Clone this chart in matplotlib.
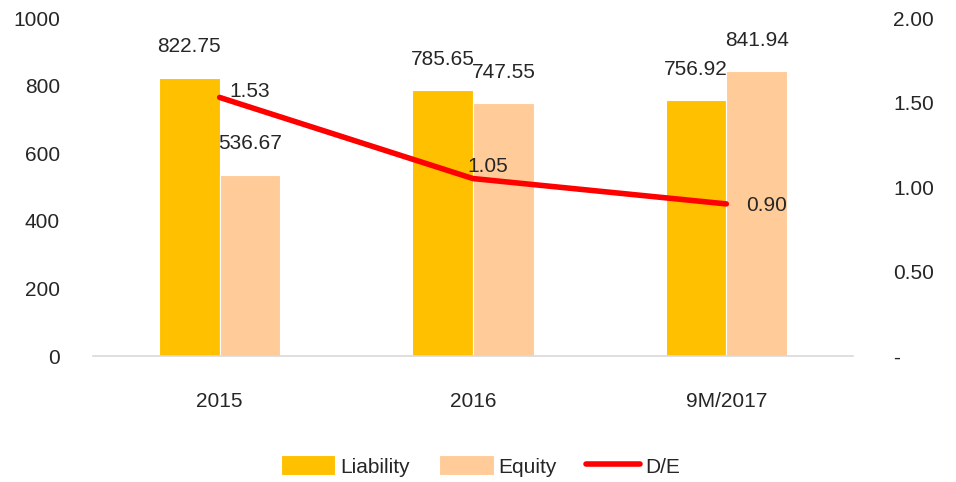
import matplotlib
matplotlib.use("Agg")
import matplotlib.pyplot as plt
import numpy as np

categories = ["2015", "2016", "9M/2017"]
liability = [822.75, 785.65, 756.92]
equity = [536.67, 747.55, 841.94]
de_ratio = [1.53, 1.05, 0.90]
left_ticks = [0, 200, 400, 600, 800, 1000]
right_ticks = [0, 0.5, 1.0, 1.5, 2.0]
right_tick_labels = ["-", "0.50", "1.00", "1.50", "2.00"]

plt.rcParams["font.family"] = ["Liberation Sans", "DejaVu Sans"]
TXT = "#262626"
FS = 15

fig = plt.figure(figsize=(9.56, 4.82), dpi=100)
ax = fig.add_axes([93/956, 1-356/482, 760/956, 338/482])
ax2 = ax.twinx()

x = np.arange(len(categories))
w = 0.24
b1 = ax.bar(x - w/2, liability, w, color="#FFC000", edgecolor="white", linewidth=0.8, label="Liability", zorder=2)
b2 = ax.bar(x + w/2, equity, w, color="#FFCC99", edgecolor="white", linewidth=0.8, label="Equity", zorder=2)
ln, = ax2.plot(x, de_ratio, color="#FF0000", linewidth=4, solid_capstyle="round", label="D/E", zorder=3)

ax.set_xlim(-0.5, len(categories) - 0.5)
ax.set_ylim(0, 1000)
ax2.set_ylim(0, 2.0)
ax.set_yticks(left_ticks)
ax.set_yticklabels([str(t) for t in left_ticks])
ax2.set_yticks(right_ticks)
ax2.set_yticklabels(right_tick_labels)
ax.set_xticks(x)
ax.set_xticklabels(categories)

for a in (ax, ax2):
    for s in a.spines.values():
        s.set_visible(False)
    a.tick_params(length=0, labelsize=FS, colors=TXT)
ax.spines["bottom"].set_visible(True)
ax.spines["bottom"].set_color("#D9D9D9")
ax.spines["bottom"].set_linewidth(1.2)
ax.tick_params(axis="y", pad=33*0.72)
ax2.tick_params(axis="y", pad=40*0.72)
ax.tick_params(axis="x", pad=26)

# bar labels
for i, v in enumerate(liability):
    ax.annotate(f"{v:.2f}", (x[i] - w/2, v), xytext=(0, 31*0.72), textcoords="offset points",
                ha="center", va="center", fontsize=FS, color=TXT)
for i, v in enumerate(equity):
    ax.annotate(f"{v:.2f}", (x[i] + w/2, v), xytext=(0, 31*0.72), textcoords="offset points",
                ha="center", va="center", fontsize=FS, color=TXT)
de_offsets = [(30, 6), (15, 12), (40, -2)]
for i, v in enumerate(de_ratio):
    dx, dy = de_offsets[i]
    ax2.annotate(f"{v:.2f}", (x[i], v), xytext=(dx*0.72, dy*0.72), textcoords="offset points",
                 ha="center", va="center", fontsize=FS, color=TXT)

fig.legend(handles=[b1, b2, ln], labels=["Liability", "Equity", "D/E"], loc="center",
           bbox_to_anchor=(0.503, 1-466/482), ncol=3, frameon=False, fontsize=FS,
           handlelength=2.6, handleheight=1.1, handletextpad=0.25, columnspacing=1.4,
           labelcolor=TXT)

fig.savefig("out.png", dpi=100)
